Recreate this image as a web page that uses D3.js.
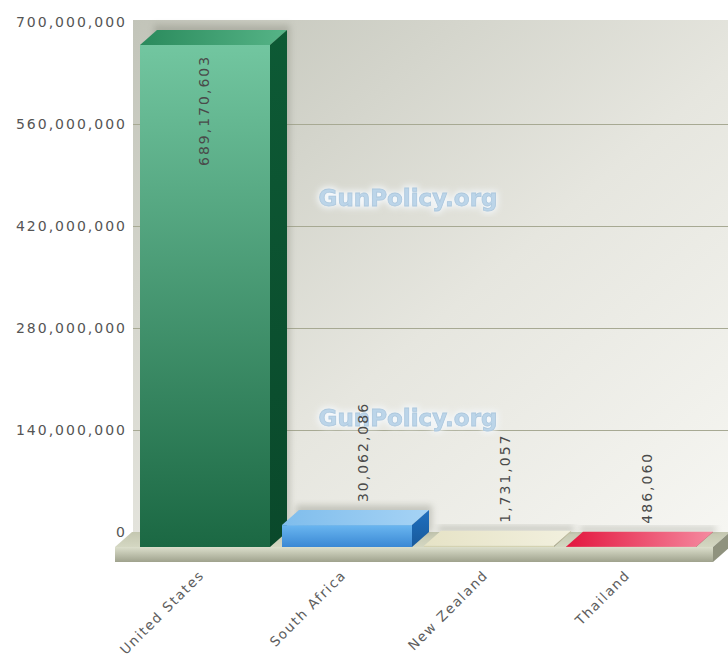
<!DOCTYPE html>
<html>
<head>
<style>
  body { margin: 0; background: #fff; }
  text { font-family: "DejaVu Sans", Verdana, sans-serif; }
  .tick-label { font-size: 14px; letter-spacing: 2px; fill: #555; }
  .value-label { font-size: 14px; letter-spacing: 2px; fill: #4a4a4a; }
  .cat-label { font-size: 13.5px; letter-spacing: 1.6px; fill: #5e5e5e; }
  .grid line { stroke: #a7a993; stroke-width: 1; shape-rendering: crispEdges; }
  .mark { font-size: 23px; font-weight: bold; }
</style>
</head>
<body>
<svg width="728" height="661"></svg>
<script src="https://cdn.jsdelivr.net/npm/d3@7"></script>
<script>
// data
var countries = ["United States", "South Africa", "New Zealand", "Thailand"];
var values = [689170603, 30062086, 1731057, 486060];
var tickValues = [0, 140000000, 280000000, 420000000, 560000000, 700000000];

// colours per bar: front top, front bottom, top face back, top face front, side
var palette = [
  ["#72c6a0", "#1b6843", "#2a8a5c", "#56b487", "#0d5a35"],
  ["#6ab6f0", "#3a88d4", "#7fbdec", "#a6d3f5", "#1f6fc0"],
  ["#dddbbc", "#cfcdab", "#e6e3c6", "#f2f0de", "#cbc8a8"],
  ["#e0143c", "#f27a92", "#e3163e", "#f58aa0", "#b80a2e"]
];

var dx = 17, dy = 15;           // depth offset of the 3d look
var wallLeft = 133, wallRight = 728;
var baseBack = 532, baseFront = baseBack + dy;

var svg = d3.select("svg");
var defs = svg.append("defs");

var y = d3.scaleLinear().domain([0, 700000000]).range([baseBack, 22]);
var x = d3.scaleBand().domain(countries).range([140, 696]).paddingInner(0.0845).paddingOuter(0);
var fmt = d3.format(",");

// gradients
var wallGrad = defs.append("linearGradient").attr("id", "wall")
  .attr("x1", 0).attr("y1", 0).attr("x2", 1).attr("y2", 1);
wallGrad.append("stop").attr("offset", 0).attr("stop-color", "#c2c4b9");
wallGrad.append("stop").attr("offset", 0.55).attr("stop-color", "#e6e6df");
wallGrad.append("stop").attr("offset", 1).attr("stop-color", "#f6f6f2");

var floorFront = defs.append("linearGradient").attr("id", "floorFront")
  .attr("x1", 0).attr("y1", 0).attr("x2", 0).attr("y2", 1);
floorFront.append("stop").attr("offset", 0).attr("stop-color", "#dcdfcc");
floorFront.append("stop").attr("offset", 1).attr("stop-color", "#9fa28d");

var floorTop = defs.append("linearGradient").attr("id", "floorTop")
  .attr("x1", 0).attr("y1", 0).attr("x2", 0).attr("y2", 1);
floorTop.append("stop").attr("offset", 0).attr("stop-color", "#c4c7b0");
floorTop.append("stop").attr("offset", 1).attr("stop-color", "#d4d7c2");

palette.forEach(function(c, i) {
  var g = defs.append("linearGradient").attr("id", "front" + i)
    .attr("x1", 0).attr("y1", 0);
  if (i == 3) g.attr("x2", 1).attr("y2", 0);
  else g.attr("x2", 0).attr("y2", 1);
  g.append("stop").attr("offset", 0).attr("stop-color", c[0]);
  g.append("stop").attr("offset", 1).attr("stop-color", c[1]);

  var t = defs.append("linearGradient").attr("id", "top" + i)
    .attr("x1", 0).attr("y1", 0).attr("x2", 1).attr("y2", 0);
  t.append("stop").attr("offset", 0).attr("stop-color", c[2]);
  t.append("stop").attr("offset", 1).attr("stop-color", c[3]);

  var s = defs.append("linearGradient").attr("id", "side" + i)
    .attr("x1", 0).attr("y1", 0).attr("x2", 0).attr("y2", 1);
  s.append("stop").attr("offset", 0).attr("stop-color", c[4]);
  s.append("stop").attr("offset", 1).attr("stop-color", d3.color(c[4]).darker(0.6));
});

var blur = defs.append("filter").attr("id", "blur")
  .attr("x", -0.2).attr("y", -0.2).attr("width", 1.4).attr("height", 1.4);
blur.append("feGaussianBlur").attr("stdDeviation", 3);

var glow = defs.append("filter").attr("id", "glow")
  .attr("x", -0.1).attr("y", -0.3).attr("width", 1.2).attr("height", 1.6);
glow.append("feGaussianBlur").attr("stdDeviation", 0.7);

// back wall
svg.append("rect")
  .attr("x", wallLeft).attr("y", y(700000000) - 2)
  .attr("width", wallRight - wallLeft).attr("height", baseBack - y(700000000) + 2)
  .attr("fill", "url(#wall)");

// gridlines
svg.append("g").attr("class", "grid")
  .selectAll("line")
  .data(tickValues.filter(function(t) { return t > 0 && t < 700000000; }))
  .enter().append("line")
  .attr("x1", wallLeft).attr("x2", wallRight)
  .attr("y1", function(d) { return Math.round(y(d)) + 0.5; })
  .attr("y2", function(d) { return Math.round(y(d)) + 0.5; });

// watermarks
[198, 418].forEach(function(cy) {
  svg.append("text").attr("class", "mark")
    .attr("x", 408).attr("y", cy + 8).attr("text-anchor", "middle")
    .attr("fill", "none").attr("stroke", "#f4f8fb").attr("stroke-width", 4)
    .attr("filter", "url(#blur)")
    .text("GunPolicy.org");
  svg.append("text").attr("class", "mark")
    .attr("x", 408).attr("y", cy + 8).attr("text-anchor", "middle")
    .attr("fill", "#bcd5e9").attr("stroke", "#adc8de").attr("stroke-width", 0.8)
    .attr("filter", "url(#glow)")
    .text("GunPolicy.org");
});

// y tick labels
svg.append("g").selectAll("text")
  .data(tickValues)
  .enter().append("text")
  .attr("class", "tick-label")
  .attr("x", 127)
  .attr("y", function(d) { return y(d) + 5; })
  .attr("text-anchor", "end")
  .text(function(d) { return fmt(d); });

// floor
svg.append("polygon")
  .attr("points", [[115, baseFront], [115 + dx, baseBack], [wallRight + 2, baseBack], [713, baseFront]].join(" "))
  .attr("fill", "url(#floorTop)");
svg.append("rect")
  .attr("x", 115).attr("y", baseFront).attr("width", 713 - 115).attr("height", 15)
  .attr("fill", "url(#floorFront)");
svg.append("polygon")
  .attr("points", [[713, baseFront], [713 + dx, baseBack], [713 + dx, baseBack + 15], [713, baseFront + 15]].join(" "))
  .attr("fill", "#8f927e");

// bars
var bars = svg.append("g").selectAll("g")
  .data(values)
  .enter().append("g");

// soft shadow on the wall
bars.append("rect")
  .attr("x", function(d, i) { return x(countries[i]) + dx - 3; })
  .attr("y", function(d) { return y(d) - 5; })
  .attr("width", x.bandwidth() + 6)
  .attr("height", function(d) { return baseBack - y(d) + 5; })
  .attr("fill", "#7d7f72").attr("opacity", 0.35)
  .attr("filter", "url(#blur)");

bars.append("rect")
  .attr("x", function(d, i) { return x(countries[i]); })
  .attr("y", function(d) { return y(d) + dy; })
  .attr("width", x.bandwidth())
  .attr("height", function(d) { return baseBack - y(d); })
  .attr("fill", function(d, i) { return "url(#front" + i + ")"; });

bars.append("polygon")
  .attr("points", function(d, i) {
    var x0 = x(countries[i]), x1 = x0 + x.bandwidth(), yf = y(d) + dy;
    return [[x0, yf], [x0 + dx, yf - dy], [x1 + dx, yf - dy], [x1, yf]].join(" ");
  })
  .attr("fill", function(d, i) { return "url(#top" + i + ")"; });

bars.append("polygon")
  .attr("points", function(d, i) {
    var x1 = x(countries[i]) + x.bandwidth(), yf = y(d) + dy;
    return [[x1, yf], [x1 + dx, yf - dy], [x1 + dx, baseBack], [x1, baseFront]].join(" ");
  })
  .attr("fill", function(d, i) { return "url(#side" + i + ")"; });

// value labels, inside tall bars, above short ones
bars.append("text")
  .attr("class", "value-label")
  .attr("dy", "0.35em")
  .attr("text-anchor", function(d) { return baseBack - y(d) > 150 ? "end" : "start"; })
  .attr("transform", function(d, i) {
    var cx = x(countries[i]) + x.bandwidth() / 2;
    if (baseBack - y(d) > 150) return "translate(" + (cx - 1) + "," + (y(d) + dy + 10) + ") rotate(-90)";
    return "translate(" + (cx + dx - 1) + "," + (y(d) - 8) + ") rotate(-90)";
  })
  .text(function(d) { return fmt(d); });

// category labels
svg.append("g").selectAll("text")
  .data(countries)
  .enter().append("text")
  .attr("class", "cat-label")
  .attr("text-anchor", "end")
  .attr("transform", function(d) {
    return "translate(" + (x(d) + x.bandwidth() / 2) + ",576) rotate(-45)";
  })
  .text(function(d) { return d; });
</script>
</body>
</html>
